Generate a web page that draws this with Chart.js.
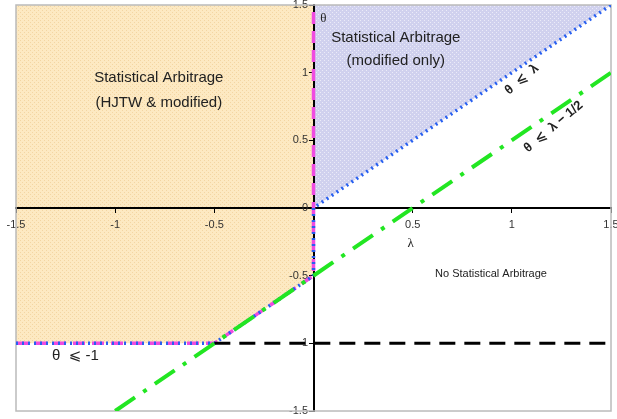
<!DOCTYPE html>
<html><head><meta charset="utf-8">
<script src="https://cdn.jsdelivr.net/npm/chart.js@4/dist/chart.umd.min.js"></script>
<style>html,body{margin:0;padding:0;background:#fff}</style>
</head><body>
<canvas id="c" width="617" height="419"></canvas>
<script>
const tickValues = [-1.5, -1, -0.5, 0, 0.5, 1, 1.5];
const hjtwBoundary = [{x:-1.5,y:-1},{x:-0.5,y:-1},{x:0,y:-0.5},{x:0,y:1.5}];
const modifiedBoundary = [{x:-1.5,y:-1},{x:-0.5,y:-1},{x:0,y:-0.5},{x:0,y:0},{x:1.5,y:1.5}];
const orangeLower = [{x:-1.5,y:-1},{x:-0.5,y:-1},{x:0,y:-0.5}];
const blueLower = [{x:0,y:0},{x:1.5,y:1.5}];
const greenLine = [{x:-1,y:-1.5},{x:1.5,y:1.0}];
const blackLine = [{x:-0.5,y:-1},{x:1.5,y:-1}];
const labels = [
  {t:'Statistical Arbitrage', x:-0.78, y:0.96, size:15},
  {t:'(HJTW & modified)', x:-0.78, y:0.78, size:15},
  {t:'Statistical Arbitrage', x:0.415, y:1.26, size:15},
  {t:'(modified only)', x:0.415, y:1.09, size:15},
  {t:'θ', x:0.05, y:1.40, size:13, serif:true},
  {t:'λ', x:0.49, y:-0.26, size:13, serif:true},
  {t:'No Statistical Arbitrage', x:0.895, y:-0.49, size:11},
  {t:'θ  ⩽ -1', x:-1.2, y:-1.09, size:15},
  {t:'θ  ⩽  λ', x:1.05, y:0.95, size:13, rot:-40, bold:true},
  {t:'θ  ⩽  λ − 1/2', x:1.21, y:0.6, size:13, rot:-40, bold:true}
];

function makePattern(base, dot){
  const c = document.createElement('canvas'); c.width = 4; c.height = 4;
  const g = c.getContext('2d');
  g.fillStyle = base; g.fillRect(0,0,4,4);
  g.fillStyle = dot; g.fillRect(0,0,1,1); g.fillRect(2,2,1,1);
  return g.createPattern(c, 'repeat');
}
const orangeFill = makePattern('#fde9c2', '#f3d5a2');
const blueFill = makePattern('#d0d1ee', '#ebebf8');

const frame = {
  id:'frame',
  beforeDatasetsDraw(chart){
    const a = chart.chartArea, ctx = chart.ctx;
    ctx.save(); ctx.strokeStyle='#bbbbbb'; ctx.lineWidth=1.5;
    ctx.strokeRect(a.left, a.top, a.right-a.left, a.bottom-a.top);
    ctx.restore();
  },
  afterDraw(chart){
    const ctx = chart.ctx, xs = chart.scales.x, ys = chart.scales.y;
    ctx.save();
    labels.forEach(l=>{
      const px = xs.getPixelForValue(l.x), py = ys.getPixelForValue(l.y);
      ctx.save();
      ctx.translate(px, py);
      if (l.rot) ctx.rotate(l.rot*Math.PI/180);
      ctx.font = (l.bold?'bold ':'') + l.size + 'px ' + (l.serif ? '"Liberation Serif", serif' : '"Liberation Sans", Arial, "DejaVu Sans", sans-serif');
      ctx.fillStyle = '#222';
      ctx.textAlign='center'; ctx.textBaseline='middle';
      ctx.fillText(l.t, 0, 0);
      ctx.restore();
    });
    ctx.restore();
  }
};

new Chart(document.getElementById('c'), {
  type:'scatter',
  data:{datasets:[
    {data:orangeLower, showLine:true, fill:'end', backgroundColor:orangeFill, borderWidth:0, pointRadius:0, order:10},
    {data:blueLower, showLine:true, fill:'end', backgroundColor:blueFill, borderWidth:0, pointRadius:0, order:10},
    {data:hjtwBoundary, showLine:true, fill:false, borderColor:'#f04be0', borderWidth:3.5, borderDash:[12,7], pointRadius:0, order:5},
    {data:modifiedBoundary, showLine:true, fill:false, borderColor:'#2860f0', borderWidth:3.5, borderDash:[2,4], pointRadius:0, order:4},
    {data:blackLine, showLine:true, fill:false, borderColor:'#000', borderWidth:3, borderDash:[16,9], pointRadius:0, order:3},
    {data:greenLine, showLine:true, fill:false, borderColor:'#22e622', borderWidth:4, borderDash:[24,10,4,10], pointRadius:0, order:2}
  ]},
  options:{
    responsive:false, animation:false,
    layout:{padding:{left:16, right:6, top:5, bottom:8}},
    plugins:{legend:{display:false}, tooltip:{enabled:false}, filler:{drawTime:'beforeDraw'}},
    scales:{
      x:{type:'linear', min:-1.5, max:1.5, position:{y:0},
         afterBuildTicks(s){ s.ticks = tickValues.map(v=>({value:v})); },
         afterFit(s){ s.paddingLeft = 0; s.paddingRight = 0; },
         ticks:{callback:v=> v===0 ? '' : String(v), color:'#333', font:{size:11, family:'"Liberation Sans", Arial, sans-serif'}, padding:6, maxRotation:0},
         grid:{drawOnChartArea:false, drawTicks:true, tickLength:4, color:'#000'},
         border:{display:true, color:'#000', width:2}},
      y:{type:'linear', min:-1.5, max:1.5, position:{x:0},
         afterBuildTicks(s){ s.ticks = tickValues.map(v=>({value:v})); },
         afterFit(s){ s.paddingTop = 0; s.paddingBottom = 0; },
         ticks:{callback:v=>String(v) + '\u2002', color:'#333', font:{size:11, family:'"Liberation Sans", Arial, sans-serif'}, padding:2},
         grid:{drawOnChartArea:false, drawTicks:true, tickLength:4, color:'#000'},
         border:{display:true, color:'#000', width:2}}
    }
  },
  plugins:[frame]
});
</script>
</body></html>
